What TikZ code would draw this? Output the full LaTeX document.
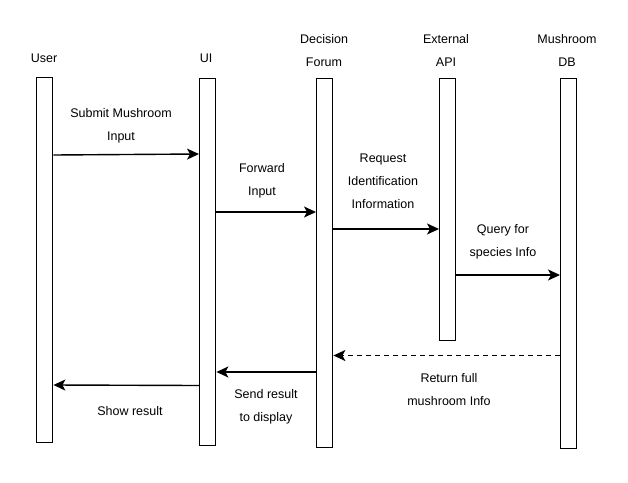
\documentclass[tikz,border=0pt]{standalone}
\usepackage{fontspec}
\setmainfont{Liberation Sans}
\usetikzlibrary{arrows.meta}
\begin{document}
\begin{tikzpicture}[x=1pt,y=-1pt,
  bar/.style={draw,line width=1.4pt,fill=white,minimum width=16pt,inner sep=0pt,anchor=north west},
  lbl/.style={font=\fontsize{12.5}{23}\selectfont,align=center,inner sep=0pt},
  msg/.style={line width=1.4pt,-{Stealth[length=12pt,width=11pt,inset=3pt]}},
  ret/.style={msg,dashed,dash pattern=on 5pt off 4pt}]
\useasboundingbox (0,0) rectangle (628,482);
% lifeline bars
\node[bar,minimum height=365pt] (user) at (36,77) {};
\node[bar,minimum height=367pt] (ui) at (199,78) {};
\node[bar,minimum height=369pt] (df) at (316,78) {};
\node[bar,minimum height=262pt] (api) at (439,78) {};
\node[bar,minimum height=370pt] (db) at (560,78) {};
% headers
\node[lbl] (huser) at (44,58) {User};
\node[lbl] (hui) at (206,58) {UI};
\node[lbl] (hdf) at (324,51) {Decision\\Forum};
\node[lbl] (hapi) at (446,50) {External\\API};
\node[lbl] (hdb) at (567,50) {Mushroom\\DB};
% messages
\draw[msg] (user.east |- 0,155) -- (ui.west |- 0,154);
\node[lbl] (l1) at (121,125.5) {Submit Mushroom\\Input};
\draw[msg] (ui.east |- 0,212) -- (df.west |- 0,212);
\node[lbl] (l2) at (262,180.5) {Forward\\Input};
\draw[msg] (df.east |- 0,229) -- (api.west |- 0,229);
\node[lbl] (l3) at (383,181.5) {Request\\Identification\\Information};
\draw[msg] (api.east |- 0,275) -- (db.west |- 0,275);
\node[lbl] (l4) at (503,241.5) {Query for\\species Info};
\draw[ret] (db.west |- 0,355.5) -- (df.east |- 0,355.5);
\node[lbl] (l5) at (449,389.5) {Return full\\mushroom Info};
\draw[msg] (df.west |- 0,372) -- (ui.east |- 0,372);
\node[lbl] (l6) at (266,406.5) {Send result\\to display};
\draw[msg] (ui.west |- 0,385.5) -- (user.east |- 0,385);
\node[lbl] (l7) at (130,411.5) {Show result};
\end{tikzpicture}
\end{document}
